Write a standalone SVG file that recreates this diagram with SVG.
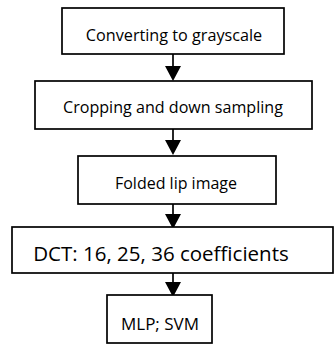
<svg xmlns="http://www.w3.org/2000/svg" width="334" height="346" viewBox="0 0 334 346">
  <style>
    .box { fill: #ffffff; stroke: #000000; stroke-width: 1.7; }
    .lbl { font-family: "Open Sans", "Liberation Sans", sans-serif; fill: #000000; text-anchor: middle; }
    .edge { stroke: #000000; stroke-width: 1.7; fill: none; }
    .head { fill: #000000; }
  </style>
  <rect width="334" height="346" fill="#ffffff"/>

  <!-- downward flow arrows between the steps -->
  <g id="connectors">
    <line class="edge" x1="173" y1="54" x2="173" y2="66"/>
    <path class="head" d="M165,66 L181,66 L173,81 Z"/>
    <line class="edge" x1="173" y1="129" x2="173" y2="140"/>
    <path class="head" d="M165,140 L181,140 L173,155 Z"/>
    <line class="edge" x1="173" y1="204" x2="173" y2="214"/>
    <path class="head" d="M165,214 L181,214 L173,229 Z"/>
    <line class="edge" x1="173" y1="273" x2="173" y2="282"/>
    <path class="head" d="M165,282 L181,282 L173,297 Z"/>
  </g>

  <g id="gray">
    <rect class="box" x="62" y="8" width="222" height="46"/>
    <text class="lbl" x="174" y="41" font-size="16.2">Converting to grayscale</text>
  </g>
  <g id="crop">
    <rect class="box" x="35" y="81" width="277" height="48"/>
    <text class="lbl" x="173" y="113" font-size="16.1">Cropping and down sampling</text>
  </g>
  <g id="fold">
    <rect class="box" x="78" y="156" width="198" height="48"/>
    <text class="lbl" x="176" y="189" font-size="16">Folded lip image</text>
  </g>
  <g id="dct">
    <rect class="box" x="12" y="227" width="321" height="46"/>
    <text class="lbl" x="161" y="261" font-size="20.5">DCT: 16, 25, 36 coefficients</text>
  </g>
  <g id="clf">
    <rect class="box" x="107" y="295" width="105" height="48"/>
    <text class="lbl" x="160" y="330" font-size="17">MLP; SVM</text>
  </g>
</svg>
